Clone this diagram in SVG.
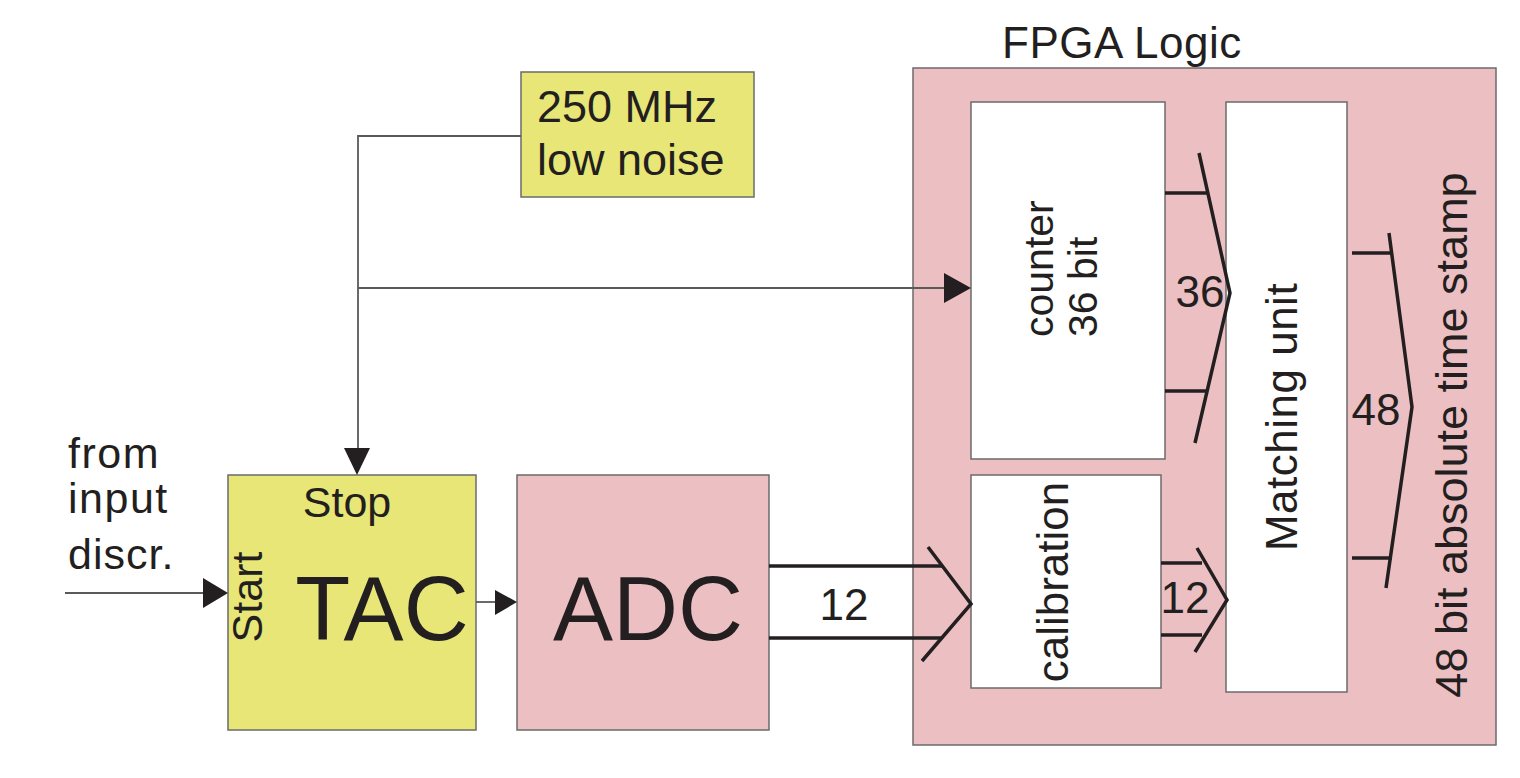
<svg xmlns="http://www.w3.org/2000/svg" width="1520" height="778" viewBox="0 0 1520 778">
<style>
  text { font-family: "Liberation Sans", Arial, sans-serif; fill: #231f20; }
  .yel { fill: #e7e676; stroke: #6b6b6b; stroke-width: 1.5; }
  .pink { fill: #ecbfc2; stroke: #6b6b6b; stroke-width: 1.5; }
  .wht { fill: #ffffff; stroke: #6b6b6b; stroke-width: 1.5; }
  .wire { fill: none; stroke: #5a5a5a; stroke-width: 1.8; }
  .bus { fill: none; stroke: #231f20; stroke-width: 3.5; }
  .ah { fill: #231f20; }
</style>
<rect width="1520" height="778" fill="#ffffff"/>

<g id="fpga">
  <rect class="pink" x="913" y="68" width="583" height="677"/>
  <text x="1002" y="58" font-size="44" letter-spacing="0.5">FPGA Logic</text>
</g>

<g id="clock">
  <rect class="yel" x="521" y="72" width="233" height="125"/>
  <text x="537" y="122" font-size="45">250 MHz</text>
  <text x="537" y="175" font-size="45">low noise</text>
</g>

<g id="input-label">
  <text x="68" y="468" font-size="43" letter-spacing="1.5">from</text>
  <text x="68" y="513" font-size="43" letter-spacing="1.5">input</text>
  <text x="68" y="569" font-size="43" letter-spacing="1">discr.</text>
</g>

<g id="tac">
  <rect class="yel" x="228" y="475" width="248" height="255"/>
  <text x="347" y="517" font-size="43" text-anchor="middle">Stop</text>
  <text transform="translate(262,597) rotate(-90)" font-size="43" text-anchor="middle">Start</text>
  <text x="382" y="640" font-size="90" text-anchor="middle">TAC</text>
</g>

<g id="adc">
  <rect class="pink" x="517" y="475" width="252" height="255"/>
  <text x="648" y="640" font-size="90" text-anchor="middle">ADC</text>
</g>

<g id="counter">
  <rect class="wht" x="971" y="102" width="194" height="357"/>
  <text transform="translate(1053,337) rotate(-90)" font-size="41">counter</text>
  <text transform="translate(1097,337) rotate(-90)" font-size="41">36 bit</text>
</g>

<g id="calibration">
  <rect class="wht" x="971" y="475" width="190" height="213"/>
  <text transform="translate(1068,582) rotate(-90)" font-size="44" text-anchor="middle">calibration</text>
</g>

<g id="matching">
  <rect class="wht" x="1226" y="102" width="121" height="590"/>
  <text transform="translate(1297,417) rotate(-90)" font-size="44" text-anchor="middle" letter-spacing="0.5">Matching unit</text>
</g>

<g id="output-label">
  <text transform="translate(1467,435) rotate(-90)" font-size="45" text-anchor="middle">48 bit absolute time stamp</text>
</g>

<g id="connectors">
  <polyline class="wire" points="521,136 358,136 358,450"/>
  <polygon class="ah" points="344,448 370,448 357,475"/>
  <line class="wire" x1="358" y1="288" x2="946" y2="288"/>
  <polygon class="ah" points="944,273 971,288 944,303"/>
  <line class="wire" x1="65" y1="593" x2="205" y2="593"/>
  <polygon class="ah" points="203,578 228,593 203,608"/>
  <line class="wire" x1="476" y1="602" x2="497" y2="602"/>
  <polygon class="ah" points="495,590 517,602 495,615"/>
  <line class="bus" x1="769" y1="566" x2="942" y2="566"/>
  <line class="bus" x1="769" y1="638" x2="942" y2="638"/>
  <polyline class="bus" points="928,547 971,604 922,661"/>
  <text x="844" y="620" font-size="44" text-anchor="middle">12</text>
  <line class="bus" x1="1161" y1="563" x2="1202" y2="563"/>
  <line class="bus" x1="1161" y1="635" x2="1202" y2="635"/>
  <polyline class="bus" points="1197,548 1227,600 1195,652"/>
  <text x="1185" y="613" font-size="44" text-anchor="middle">12</text>
  <line class="bus" x1="1165" y1="193" x2="1207" y2="193"/>
  <line class="bus" x1="1165" y1="391" x2="1207" y2="391"/>
  <polyline class="bus" points="1199,153 1230,293 1195,443"/>
  <text x="1200" y="307" font-size="44" text-anchor="middle">36</text>
  <line class="bus" x1="1352" y1="253" x2="1392" y2="253"/>
  <line class="bus" x1="1352" y1="558" x2="1392" y2="558"/>
  <polyline class="bus" points="1389,233 1412,407 1386,588"/>
  <text x="1376" y="425" font-size="44" text-anchor="middle">48</text>
</g>
</svg>
